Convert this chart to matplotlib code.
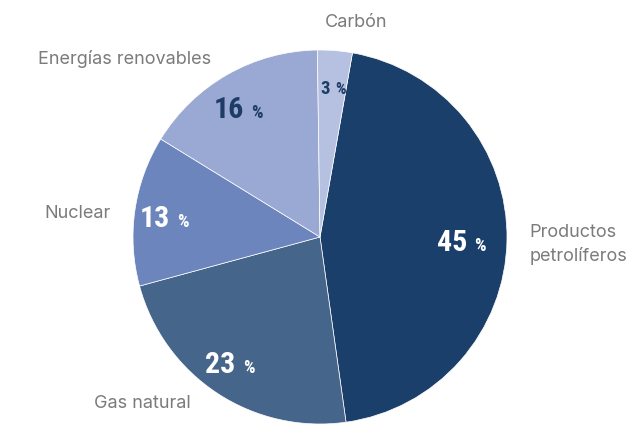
import numpy as np
import matplotlib
matplotlib.use("Agg")
import matplotlib.pyplot as plt

# ---------------------------------------------------------------------------
# Data (clockwise from ~80 deg)
# ---------------------------------------------------------------------------
labels = ["Productos\npetrolíferos", "Gas natural", "Nuclear",
          "Energías renovables", "Carbón"]
values = [45, 23, 13, 16, 3]
colors = ["#1b3f6b", "#46658a", "#6d85bd", "#9aa9d3", "#b6c1e1"]
pct_colors = ["white", "white", "white", "#1d3c66", "#1d3c66"]

W, H = 642, 425
CX, CY, R = 320, H - 237, 187

fig = plt.figure(figsize=(W / 100, H / 100), dpi=100)
ax = fig.add_axes([0, 0, 1, 1])

wedges, texts = ax.pie(
    values, labels=labels, colors=colors, startangle=80, counterclock=False,
    center=(CX, CY), radius=R, labeldistance=1.12,
    wedgeprops=dict(edgecolor="white", linewidth=0.5),
    textprops=dict(color="#7b7b7b", fontsize=13, family=["Inter", "DejaVu Sans"]),
)
# pie() resets the limits to +-1.25 around the centre, so set them afterwards
ax.set_xlim(0, W)
ax.set_ylim(0, H)
ax.set_aspect("equal")
ax.axis("off")

# pie decides left/right alignment from the data x sign, which is always
# positive here -> fix it by hand and nudge to the reference positions
nudges = {
    "Gas natural": ("right", -14, 8),
    "Nuclear": ("right", -2, -6),
    "Energías renovables": ("right", -5, -4),
}
for t, lab in zip(texts, labels):
    if lab == "Carbón":
        t.set_ha("center")
        t.set_position((356, H - 22))
    elif lab.startswith("Productos"):
        t.set_linespacing(1.45)
        x, y = t.get_position()
        t.set_position((x, y - 4))
    elif lab in nudges:
        ha, dx, dy = nudges[lab]
        x, y = t.get_position()
        t.set_ha(ha)
        t.set_position((x + dx, y + dy))

# percentage labels: big condensed number + small "%"
num_font = ["Roboto Condensed", "Liberation Sans Narrow", "DejaVu Sans"]
for w, v, c in zip(wedges, values, pct_colors):
    mid = np.deg2rad((w.theta1 + w.theta2) / 2)
    px = CX + 0.8 * R * np.cos(mid)
    py = CY + 0.8 * R * np.sin(mid)
    big = v >= 10
    nsize = 21.5 if big else 13.5
    base = py - (11 if big else 6)
    ax.text(px - 2, base, str(v), ha="right", va="baseline", color=c,
            fontsize=nsize, fontweight="bold", fontstretch="condensed", family=num_font)
    ax.text(px + 5 if big else px + 3, base, "%", ha="left", va="baseline", color=c,
            fontsize=13 if big else 12, fontweight="bold", fontstretch="condensed",
            family=num_font)

fig.savefig("out.png", dpi=100)
